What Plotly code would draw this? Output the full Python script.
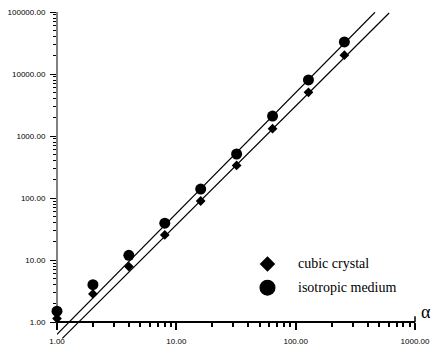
import plotly.graph_objects as go

# ---- data ----
alpha = [1, 2, 4, 8, 16, 32, 64, 128, 256]
cubic = [1.15, 2.86, 7.9, 25.5, 90, 337, 1320, 5070, 20100]
isotropic = [1.51, 4.03, 12.0, 39.5, 140, 515, 2100, 8050, 33000]

fit_cubic_x = [1.108, 607]
fit_cubic_y = [0.55, 96400]
fit_iso_x = [1.0, 462]
fit_iso_y = [0.64, 99000]

series_names = ["cubic crystal", "isotropic medium"]
x_tickvals = [1, 10, 100, 1000]
x_ticktext = ["1.00", "10.00", "100.00", "1000.00"]
y_tickvals = [1, 10, 100, 1000, 10000, 100000]
y_ticktext = ["1.00", "10.00", "100.00", "1000.00", "10000.00", "100000.00"]

x_minor = [m * 10 ** k for k in range(3) for m in range(2, 10)]
y_minor = [m * 10 ** k for k in range(5) for m in range(2, 10)]

# ---- layout geometry (page pixels) ----
W, H = 438, 354
L, R, T, B = 57, 17, 8, 9
plot_w = W - L - R
plot_bottom = H - B            # 345
plot_h = plot_bottom - T
axis_y_px = 322                # pixel row of y = 1
ylo = -(plot_bottom - axis_y_px) / ((axis_y_px - T) / 5)
y_axis_frac = (plot_bottom - axis_y_px) / plot_h


def px_to_paper(px, py):
    return (px - L) / plot_w, (plot_bottom - py) / plot_h


def px_to_data(px, py):
    fx, fy = px_to_paper(px, py)
    return 10 ** (fx * 3), 10 ** (ylo + fy * (5 - ylo))


tick_font = dict(family="Liberation Sans, Arial", size=8, color="black")
serif = "Liberation Serif, Times New Roman, serif"

fig = go.Figure()

# fitted lines
fig.add_trace(go.Scatter(x=fit_iso_x, y=fit_iso_y, mode="lines",
                         line=dict(color="black", width=1.2), showlegend=False))
fig.add_trace(go.Scatter(x=fit_cubic_x, y=fit_cubic_y, mode="lines",
                         line=dict(color="black", width=1.2), showlegend=False))

# data points
fig.add_trace(go.Scatter(x=alpha, y=cubic, mode="markers", name=series_names[0],
                         marker=dict(symbol="diamond", size=7.5, color="black"),
                         cliponaxis=False, showlegend=False))
fig.add_trace(go.Scatter(x=alpha, y=isotropic, mode="markers", name=series_names[1],
                         marker=dict(symbol="circle", size=11, color="black"),
                         cliponaxis=False, showlegend=False))

# legend (symbols placed at fixed page positions)
legend_px = 271
legend_py = [263, 287]
legend_symbols = ["diamond", "circle"]
legend_sizes = [12, 16]
annotations = []
for name, sym, sz, py in zip(series_names, legend_symbols, legend_sizes, legend_py):
    lx, ly = px_to_data(legend_px, py)
    fig.add_trace(go.Scatter(x=[lx], y=[ly], mode="markers",
                             marker=dict(symbol=sym, size=sz, color="black"),
                             showlegend=False, cliponaxis=False))
    ax_, ay_ = px_to_paper(300, py)
    annotations.append(dict(x=ax_, y=ay_, xref="paper", yref="paper", text=name,
                            showarrow=False, xanchor="left", yanchor="middle",
                            font=dict(family=serif, size=14, color="black")))

ax_, ay_ = px_to_paper(432, 312)
annotations.append(dict(x=ax_, y=ay_, xref="paper", yref="paper", text="α",
                        showarrow=False, xanchor="center", yanchor="middle",
                        font=dict(family=serif, size=18, color="black")))

shapes = [
    # y axis line, only from y = 1 upward
    dict(type="line", xref="paper", yref="paper", x0=0, x1=0,
         y0=y_axis_frac, y1=1, line=dict(color="black", width=1)),
    # small upward end mark of the x axis
    dict(type="line", xref="paper", yref="paper", x0=1, x1=1,
         y0=y_axis_frac, y1=y_axis_frac + 6 / plot_h, line=dict(color="black", width=1.5)),
]

fig.update_layout(
    width=W, height=H,
    margin=dict(l=L, r=R, t=T, b=B, pad=0),
    paper_bgcolor="white",
    plot_bgcolor="white",
    showlegend=False,
    annotations=annotations,
    shapes=shapes,
    xaxis=dict(type="log", range=[0, 3], anchor="free", position=y_axis_frac,
               showgrid=False, zeroline=False, showline=True,
               linecolor="black", linewidth=2,
               ticks="outside", ticklen=7, tickwidth=1.5, tickcolor="black",
               tickvals=x_tickvals, ticktext=x_ticktext, tickfont=tick_font,
               ticklabelstandoff=4,
               minor=dict(ticks="outside", ticklen=4, tickwidth=1.5,
                          tickcolor="black", tickvals=x_minor, showgrid=False)),
    yaxis=dict(type="log", range=[ylo, 5],
               showgrid=False, zeroline=False, showline=False,
               ticks="outside", ticklen=6, tickwidth=1, tickcolor="black",
               tickvals=y_tickvals, ticktext=y_ticktext, tickfont=tick_font,
               ticklabelstandoff=3,
               minor=dict(ticks="outside", ticklen=3, tickwidth=1,
                          tickcolor="black", tickvals=y_minor, showgrid=False)),
)

fig.write_html("out.html")
